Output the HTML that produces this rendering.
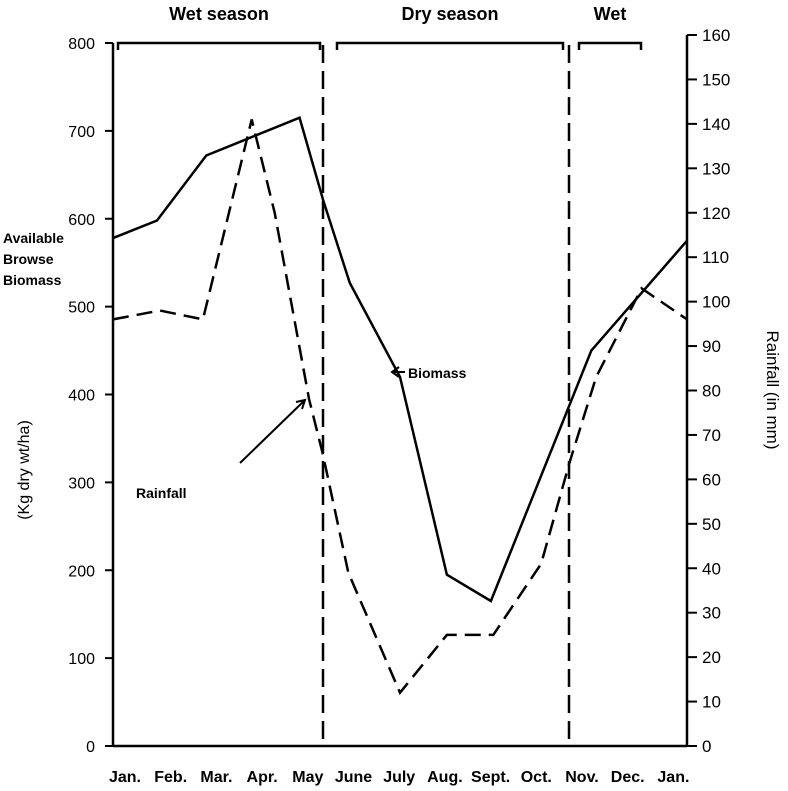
<!DOCTYPE html>
<html><head><meta charset="utf-8"><style>
body{margin:0;background:#fff}
svg{display:block;font-family:"Liberation Sans",sans-serif}
</style></head><body>
<svg id="c" width="788" height="791">
</svg>
<script>
const monthLabels=["Jan.","Feb.","Mar.","Apr.","May","June","July","Aug.","Sept.","Oct.","Nov.","Dec.","Jan."];
const leftTicks=[0,100,200,300,400,500,600,700,800];
const rightTicks=[0,10,20,30,40,50,60,70,80,90,100,110,120,130,140,150,160];
const biomassMonths=[0,0.92,1.95,3.9,4.4,4.95,6.0,6.98,7.9,10.0,12];
const biomassValues=[578,598,672,715,620,527,420,195,165,450,575];
const rainMonths=[0,0.98,1.88,2.9,3.38,4.1,4.38,4.92,6.0,6.98,7.95,8.95,9.55,10.1,11.05,12];
const rainValues=[96,98,96,141,120,78,66,39,12,25,25,41,64,83,103,96];
const seasons=[{label:"Wet season",x0:118,x1:320},{label:"Dry season",x0:337,x1:563},{label:"Wet",x0:579,x1:641}];

const S="http://www.w3.org/2000/svg",svg=document.getElementById('c');
const X=m=>113+m*(574/12), YL=v=>746-v*(703/800), YR=v=>746-v*(711/160);
function el(t,a,p){const e=document.createElementNS(S,t);for(const k in a)e.setAttribute(k,a[k]);(p||svg).appendChild(e);return e;}
function txt(s,a){const e=el('text',Object.assign({fill:'#000'},a));e.textContent=s;return e;}
let e;
e=el('line',{x1:113,y1:43,x2:113,y2:746,stroke:'#000','stroke-width':2.5});

e=el('line',{x1:113,y1:746,x2:687,y2:746,stroke:'#000','stroke-width':2.5});

e=el('line',{x1:687,y1:35,x2:687,y2:746,stroke:'#000','stroke-width':2.5});

leftTicks.forEach(v=>{
 el('line',{x1:105,y1:YL(v),x2:113,y2:YL(v),stroke:'#000','stroke-width':2});
 e=txt(v,{x:95,y:YL(v)+6,'text-anchor':'end','font-size':16});
 
});
rightTicks.forEach(v=>{
 el('line',{x1:687,y1:YR(v),x2:697,y2:YR(v),stroke:'#000','stroke-width':2});
 e=txt(v,{x:702,y:YR(v)+6,'font-size':17});
 
});
monthLabels.forEach((m,i)=>{
 e=txt(m,{x:125+i*45.7,y:782,'text-anchor':'middle','font-size':16,'font-weight':'bold'});
 
});
[323,569].forEach(x=>{e=el('line',{x1:x,y1:45,x2:x,y2:746,stroke:'#000','stroke-width':2.5,'stroke-dasharray':'18 8'});
 });
seasons.forEach(s=>{
 e=el('path',{d:`M${s.x0} 50V43H${s.x1}V50`,fill:'none',stroke:'#000','stroke-width':2.5});
 
 e=txt(s.label,{x:(s.x0+s.x1)/2,y:20,'text-anchor':'middle','font-size':18,'font-weight':'bold'});
 
});
e=el('polyline',{points:biomassMonths.map((m,i)=>X(m)+','+YL(biomassValues[i])).join(' '),fill:'none',stroke:'#000','stroke-width':2.5});

e=el('polyline',{points:rainMonths.map((m,i)=>X(m)+','+YR(rainValues[i])).join(' '),fill:'none',stroke:'#000','stroke-width':2.5,'stroke-dasharray':'16 8'});

e=txt("Biomass",{x:408,y:378,'font-size':14,'font-weight':'bold'});

el('path',{d:'M405 372H392M399 367L392 372L399 377',fill:'none',stroke:'#000','stroke-width':2});
e=txt("Rainfall",{x:136,y:498,'font-size':14,'font-weight':'bold'});

el('path',{d:'M240 463L305 400M296 402L305 400L302 409',fill:'none',stroke:'#000','stroke-width':2});
["Available","Browse","Biomass"].forEach((t,i)=>{e=txt(t,{x:3,y:243+i*21,'font-size':14,'font-weight':'bold'});
 });
e=txt("(Kg dry wt/ha)",{x:0,y:0,transform:'translate(29,470) rotate(-90)','text-anchor':'middle','font-size':16});

e=txt("Rainfall (in mm)",{x:0,y:0,transform:'translate(767,390) rotate(90)','text-anchor':'middle','font-size':17});

</script>
</body></html>
